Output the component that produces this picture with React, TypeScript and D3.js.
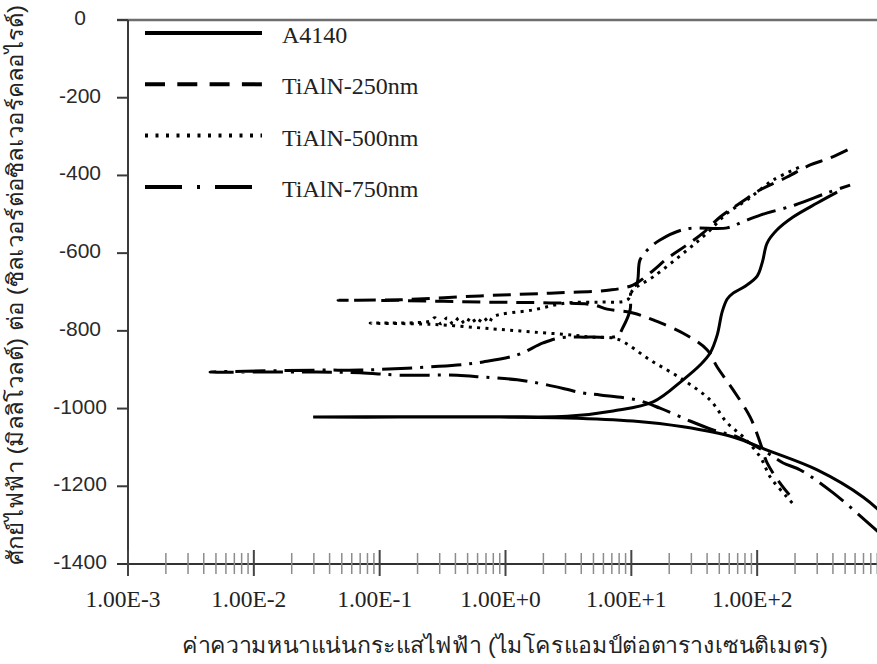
import * as d3 from "d3";
import { useEffect, useRef } from "react";

// [current density (µA/cm²), potential (mV)] along each scan: cathodic end -> Ecorr -> anodic end
type Point = [number, number];

const seriesNames = ["A4140", "TiAlN-250nm", "TiAlN-500nm", "TiAlN-750nm"];

const a4140: Point[] = [
    [950, -1265], [697, -1228], [300, -1158], [120, -1107], [64.4, -1073], [25.8, -1047],
    [10.3, -1032], [3.09, -1024], [0.906, -1022], [0.145, -1022], [0.0296, -1022],
    [0.145, -1021], [0.906, -1021], [3.09, -1020], [7.16, -1006], [14.9, -983], [25.8, -926],
    [35.2, -888], [42.3, -857], [48.1, -811], [52.7, -751], [57.8, -718], [64.4, -703],
    [80.3, -685], [100, -659], [110, -623], [120, -574], [144, -540], [193, -507],
    [300, -471], [432, -443],
];

const tialn250: Point[] = [
    [180, -1222], [152, -1192], [120, -1140], [106, -1089], [88, -1022], [64.4, -952],
    [48.1, -893], [40.1, -849], [25.8, -806], [14.9, -772], [10.3, -754], [6.42, -744],
    [4.97, -733], [2.26, -728], [0.664, -726], [0.145, -722], [0.0467, -721],
    [0.145, -720], [0.628, -710], [2.26, -703], [6.78, -695], [10.3, -682], [14.1, -651],
    [19.6, -612], [26.8, -582], [37.2, -548], [50.8, -507], [73.3, -471], [106, -437],
    [173, -404], [264, -373], [380, -355], [580, -327],
];

const tialn500: Point[] = [
    [190, -1243], [173, -1228], [127, -1176], [106, -1125], [77.4, -1073], [57.8, -1037],
    [42.3, -978], [25.8, -926], [14.1, -875], [7.71, -821], [4.7, -816], [3.45, -811],
    [1.66, -803], [0.796, -795], [0.252, -783], [0.084, -780],
    [0.252, -775], [0.275, -766], [0.308, -782], [0.344, -766], [0.383, -782], [0.428, -766],
    [0.478, -782], [0.533, -765], [0.594, -781], [0.664, -765], [0.741, -779], [0.796, -764],
    [1.66, -746], [3.09, -728], [5.65, -726], [9.27, -721], [10.3, -695], [14.9, -661],
    [27.8, -592], [40.1, -548], [57.8, -497], [83.2, -463], [134, -412], [220, -378],
];

const tialn750: Point[] = [
    [950, -1322], [402, -1217], [220, -1158], [161, -1140], [120, -1114], [69.3, -1073],
    [44.7, -1055], [27.8, -1029], [16.9, -999], [11.1, -978], [5.65, -965], [4.14, -960],
    [2.14, -939], [1.24, -926], [0.664, -919], [0.412, -914], [0.145, -914], [0.0698, -908],
    [0.0318, -906], [0.00449, -906],
    [0.0318, -901], [0.0698, -901], [0.165, -896], [0.412, -888], [0.664, -880], [1.24, -862],
    [1.99, -831], [2.72, -818], [4.7, -816], [7.71, -813], [8.61, -790], [9.78, -746],
    [10.0, -695], [11.1, -677], [11.7, -618], [13.4, -592], [16.9, -566], [26.8, -538],
    [57.8, -535], [76.0, -520], [106, -502], [200, -476], [360, -445], [548, -425],
];

const allSeries = [a4140, tialn250, tialn500, tialn750];

const yTickValues = [0, -200, -400, -600, -800, -1000, -1200, -1400];
const xTickValues = [1e-3, 1e-2, 1e-1, 1e0, 1e1, 1e2];

const yTitle = "ศักย์ไฟฟ้า (มิลลิโวลต์) ต่อ (ซิลเวอร์ต่อซิลเวอร์คลอไรด์)";
const xTitle = "ค่าความหนาแน่นกระแสไฟฟ้า (ไมโครแอมป์ต่อตารางเซนติเมตร)";

const width = 877;
const height = 664;
const axisLeft = 128;
const plotTop = 20;
const plotBottom = 564;
const decadeEnd = 883;

const serif = "'Liberation Serif', 'DejaVu Serif', 'Times New Roman', serif";
const sans = "'Liberation Sans', Arial, sans-serif";

const curveDashes = ["none", "18,9", "3,5.3", "30,8,3,8"];
const legendDashes = ["none", "20,12.3", "3,7.5", "37,15,3,15"];

const formatSci = (v: number) => {
    const e = Math.round(Math.log10(v));
    return `1.00E${e < 0 ? "-" : "+"}${Math.abs(e)}`;
};

const App = () => {
    const ref = useRef<SVGSVGElement>(null);

    useEffect(() => {
        const svg = d3.select(ref.current);
        svg.selectAll("*").remove();

        const x = d3.scaleLog().domain([1e-3, 1e3]).range([axisLeft, decadeEnd]);
        const y = d3.scaleLinear().domain([-1400, 0]).range([plotBottom, plotTop]);

        svg.append("rect").attr("width", width).attr("height", height).attr("fill", "white");

        // top border at 0 mV
        svg.append("line")
            .attr("x1", 117).attr("x2", width)
            .attr("y1", y(0)).attr("y2", y(0))
            .attr("stroke", "#6e6e6e").attr("stroke-width", 2.5);

        // y axis
        svg.append("line")
            .attr("x1", axisLeft).attr("x2", axisLeft)
            .attr("y1", y(0)).attr("y2", y(-1400) + 12)
            .attr("stroke", "#3a3a3a").attr("stroke-width", 2);

        const yAxis = svg.append("g");
        yAxis.selectAll("line")
            .data(yTickValues)
            .join("line")
            .attr("x1", 117).attr("x2", axisLeft)
            .attr("y1", d => y(d)).attr("y2", d => y(d))
            .attr("stroke", "#3a3a3a").attr("stroke-width", 2);
        yAxis.selectAll("text")
            .data(yTickValues)
            .join("text")
            .attr("x", 80)
            .attr("y", d => y(d) + 5)
            .attr("text-anchor", "middle")
            .style("font-family", sans)
            .style("font-size", "21px")
            .attr("fill", "#2a2a2a")
            .text(d => String(d));

        // x axis
        svg.append("line")
            .attr("x1", 117).attr("x2", width)
            .attr("y1", y(-1400)).attr("y2", y(-1400))
            .attr("stroke", "#333").attr("stroke-width", 2);

        const isMajor = (t: number) => Math.abs(Math.log10(t) - Math.round(Math.log10(t))) < 1e-9;
        svg.append("g")
            .selectAll("line")
            .data(x.ticks())
            .join("line")
            .attr("x1", d => x(d)).attr("x2", d => x(d))
            .attr("y1", d => isMajor(d) ? plotBottom - 14 : plotBottom - 11)
            .attr("y2", d => isMajor(d) ? plotBottom + 12 : plotBottom + 10)
            .attr("stroke", d => isMajor(d) ? "#444" : "#8c8c8c")
            .attr("stroke-width", d => isMajor(d) ? 2 : 1.5);

        svg.append("g")
            .selectAll("text")
            .data(xTickValues)
            .join("text")
            .attr("x", d => x(d) - 5)
            .attr("y", 607)
            .attr("text-anchor", "middle")
            .style("font-family", serif)
            .style("font-size", "23.5px")
            .attr("fill", "#222")
            .text(d => formatSci(d));

        // curves
        const line = d3.line<Point>()
            .x(d => x(d[0]))
            .y(d => y(d[1]))
            .curve(d3.curveCatmullRom.alpha(0.5));

        svg.append("g")
            .selectAll("path")
            .data(allSeries)
            .join("path")
            .attr("d", d => line(d))
            .attr("fill", "none")
            .attr("stroke", "#000")
            .attr("stroke-width", 3)
            .attr("stroke-dasharray", (_, i) => curveDashes[i]);

        // legend
        const legend = svg.append("g")
            .selectAll("g")
            .data(seriesNames)
            .join("g")
            .attr("transform", (_, i) => `translate(0,${33 + i * 51.3})`);
        legend.append("line")
            .attr("x1", 145).attr("x2", 262)
            .attr("stroke", "#000")
            .attr("stroke-width", 4)
            .attr("stroke-dasharray", (_, i) => legendDashes[i]);
        legend.append("text")
            .attr("x", 282)
            .attr("y", 10)
            .style("font-family", serif)
            .style("font-size", "24px")
            .attr("fill", "#222")
            .text(d => d);

        // axis titles
        svg.append("text")
            .attr("transform", "translate(23,285) rotate(-90)")
            .attr("text-anchor", "middle")
            .style("font-size", "22px")
            .attr("textLength", 560)
            .attr("lengthAdjust", "spacingAndGlyphs")
            .attr("fill", "#222")
            .text(yTitle);

        svg.append("text")
            .attr("x", 505)
            .attr("y", 653)
            .attr("text-anchor", "middle")
            .style("font-size", "22px")
            .attr("textLength", 646)
            .attr("lengthAdjust", "spacingAndGlyphs")
            .attr("fill", "#222")
            .text(xTitle);
    }, []);

    return (
        <svg
            ref={ref}
            width={width}
            height={height}
            style={{ position: "absolute", left: 0, top: 0, fontFamily: "sans-serif" }}
        />
    );
};

export default App;
